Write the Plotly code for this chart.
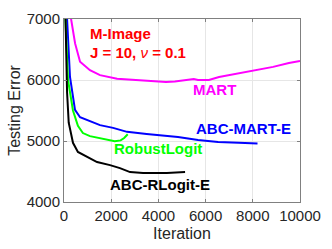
import plotly.graph_objects as go

# MART (magenta)
mart_it = [100, 300, 470, 680, 1100, 1525, 2250, 2920, 3500, 4070, 4320, 4700, 5170, 5500, 5680, 6140, 6570, 7290, 8050, 8860, 9530, 10000]
mart_err = [7800, 7000, 6600, 6300, 6160, 6080, 6020, 6000, 5985, 5970, 5967, 5975, 6000, 6015, 6000, 6000, 6050, 6100, 6165, 6215, 6280, 6310]

# ABC-MART-E (blue)
abcmart_it = [40, 130, 254, 466, 680, 975, 1525, 2080, 2670, 3500, 4360, 4830, 5680, 6530, 7400, 8200]
abcmart_err = [8000, 7000, 6050, 5510, 5390, 5345, 5260, 5215, 5150, 5115, 5080, 5065, 5015, 4985, 4970, 4960]

# RobustLogit (green)
robust_it = [20, 60, 170, 380, 590, 800, 1100, 1500, 1950, 2150, 2400, 2550, 2700]
robust_err = [8000, 7000, 6000, 5500, 5250, 5130, 5080, 5050, 5010, 4995, 5010, 5050, 5110]

# ABC-RLogit-E (black)
abcrl_it = [10, 60, 130, 200, 254, 380, 590, 975, 1400, 1950, 2370, 2800, 3350, 4360, 5130]
abcrl_err = [8000, 7000, 5800, 5300, 5180, 4970, 4820, 4740, 4655, 4605, 4555, 4490, 4475, 4475, 4490]

x_ticks = [0, 2000, 4000, 6000, 8000, 10000]
y_ticks = [4000, 5000, 6000, 7000]

fig = go.Figure()
series = [
    (mart_it, mart_err, "#ff00ff"),
    (abcmart_it, abcmart_err, "#0000ff"),
    (robust_it, robust_err, "#00ff00"),
    (abcrl_it, abcrl_err, "#000000"),
]
for xs, ys, c in series:
    fig.add_trace(go.Scatter(x=xs, y=ys, mode="lines", line=dict(color=c, width=2), showlegend=False))

font_fam = "Liberation Sans, Arial, Helvetica, sans-serif"
labels = [
    (1000, 6770, "<b>M-Image</b>", "#ff0000"),
    (1000, 6443, "<b>J = 10, </b><i>ν</i><b> = 0.1</b>", "#ff0000"),
    (5400, 5850, "<b>MART</b>", "#ff00ff"),
    (5500, 5200, "<b>ABC-MART-E</b>", "#0000ff"),
    (2030, 4870, "<b>RobustLogit</b>", "#00ff00"),
    (1850, 4280, "<b>ABC-RLogit-E</b>", "#000000"),
]
for x, y, t, c in labels:
    fig.add_annotation(x=x, y=y, text=t, showarrow=False, xanchor="left", yanchor="middle",
                       font=dict(family=font_fam, size=15, color=c))

axis_common = dict(showgrid=True, gridcolor="#e6e6e6", gridwidth=1, showline=True, linecolor="#808080",
                   linewidth=1, mirror="ticks", ticks="inside", ticklen=3, tickcolor="#808080",
                   zeroline=False, automargin=False,
                   tickfont=dict(family=font_fam, size=15, color="#262626"))
fig.update_xaxes(range=[0, 10000], tickvals=x_ticks, ticktext=[str(v) for v in x_ticks],
                 title=dict(text="Iteration", font=dict(family=font_fam, size=16, color="#262626"), standoff=4),
                 **axis_common)
fig.update_yaxes(range=[4000, 7000], tickvals=y_ticks, ticktext=[str(v) for v in y_ticks],
                 title=dict(text="Testing Error", font=dict(family=font_fam, size=16, color="#262626"), standoff=2),
                 **axis_common)
fig.update_layout(width=332, height=249, margin=dict(l=64, r=32, t=19, b=47),
                  paper_bgcolor="white", plot_bgcolor="white")
fig.write_html("out.html", config={"displayModeBar": False},
               post_script="document.body.style.margin='0';")
